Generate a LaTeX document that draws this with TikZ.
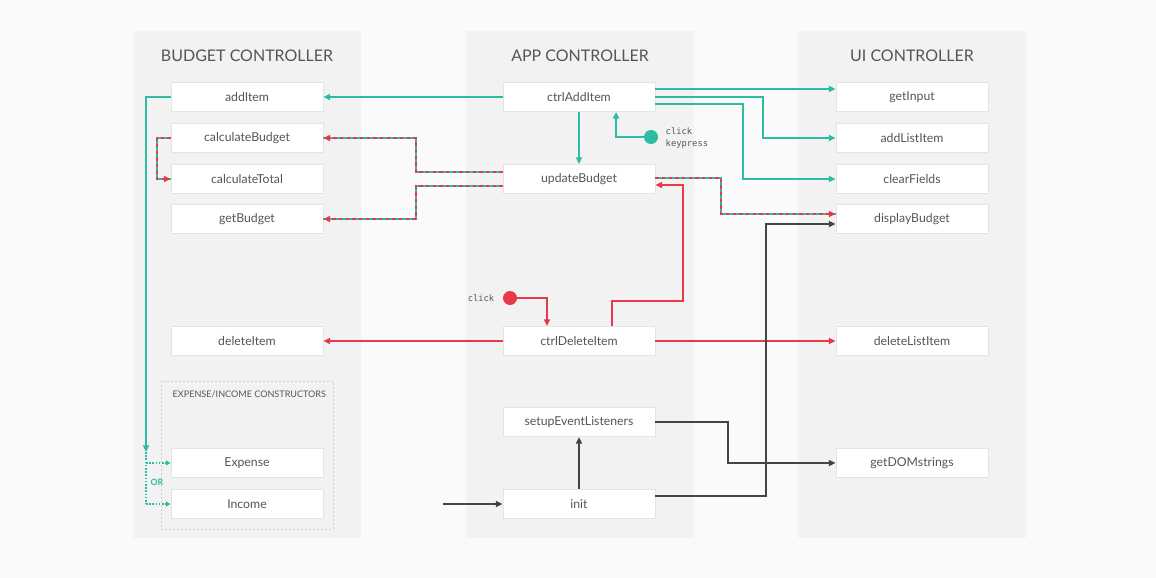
\documentclass[tikz,border=0pt]{standalone}
\usepackage{fontspec}
\setmainfont{Lato}
\newfontfamily\monofont{DejaVu Sans Mono}
\usetikzlibrary{arrows.meta,calc}
\definecolor{outerbg}{HTML}{FAFAFA}
\definecolor{colbg}{HTML}{F2F2F2}
\definecolor{boxborder}{HTML}{E4E4E4}
\definecolor{txt}{HTML}{555555}
\definecolor{tealc}{HTML}{2CBBA3}
\definecolor{redc}{HTML}{E8394A}
\definecolor{darkc}{HTML}{444444}
\tikzset{
  box/.style={draw=boxborder, line width=0.6pt, fill=white, minimum width=114pt, minimum height=22pt,
    inner sep=0pt, text=txt, font=\fontsize{9.2}{11}\selectfont},
  coltitle/.style={text=txt, font=\fontsize{12}{14}\selectfont},
  tip/.style={-{Triangle[length=5pt,width=4.5pt]}},
  tealline/.style={draw=tealc, line width=1.5pt, tip},
  redline/.style={draw=redc, line width=1.5pt, tip},
  darkline/.style={draw=darkc, line width=1.5pt, tip},
  mixbase/.style={draw=tealc, line width=1.5pt},
  mixtop/.style={draw=redc, line width=1.5pt, dash pattern=on 2.5pt off 2.5pt, tip},
  ordot/.style={draw=tealc, line width=1pt, dash pattern=on 1.2pt off 1.2pt},
  ortip/.style={-{Triangle[length=3.5pt,width=3.5pt]}},
  dot/.style={circle, inner sep=0pt, minimum size=10.5pt},
  monotxt/.style={text=txt, font=\monofont\fontsize{6.6}{8.5}\selectfont, align=left},
}
\begin{document}
\begin{tikzpicture}[x=0.75pt,y=-0.75pt]
\fill[outerbg] (0,0) rectangle (1156,578);
\useasboundingbox (0,0) rectangle (1156,578);
% columns
\fill[colbg] (133,31) rectangle (361,538);
\fill[colbg] (466,31) rectangle (694,538);
\fill[colbg] (798,31) rectangle (1026,538);
% titles
\node[coltitle] (tBudget) at (247,56) {BUDGET CONTROLLER};
\node[coltitle] (tApp) at (580,56) {APP CONTROLLER};
\node[coltitle] (tUI) at (912,56) {UI CONTROLLER};
% constructors box
\draw[boxborder!80!gray, line width=0.6pt, dash pattern=on 1.5pt off 1.5pt] (161,381) rectangle (333,529);
\node[anchor=west, text=txt, font=\fontsize{6.8}{8}\selectfont] (tCons) at (168,394) {EXPENSE/INCOME CONSTRUCTORS};
% budget controller nodes
\node[box] (addItem) at (247,97) {addItem};
\node[box] (calculateBudget) at (247,138) {calculateBudget};
\node[box] (calculateTotal) at (247,179) {calculateTotal};
\node[box] (getBudget) at (247,219) {getBudget};
\node[box] (deleteItem) at (247,341) {deleteItem};
\node[box] (Expense) at (247,463) {Expense};
\node[box] (Income) at (247,504) {Income};
% app controller nodes
\node[box] (ctrlAddItem) at (579,97) {ctrlAddItem};
\node[box] (updateBudget) at (579,179) {updateBudget};
\node[box] (ctrlDeleteItem) at (579,341) {ctrlDeleteItem};
\node[box] (setupEventListeners) at (579,422) {setupEventListeners};
\node[box] (init) at (579,504) {init};
% ui controller nodes
\node[box] (getInput) at (912,97) {getInput};
\node[box] (addListItem) at (912,138) {addListItem};
\node[box] (clearFields) at (912,179) {clearFields};
\node[box] (displayBudget) at (912,219) {displayBudget};
\node[box] (deleteListItem) at (912,341) {deleteListItem};
\node[box] (getDOMstrings) at (912,463) {getDOMstrings};
% event dots
\node[dot, fill=tealc] (clickA) at (651,137) {};
\node[monotxt, anchor=west] (clickAtxt) at (661,138) {click\\keypress};
\node[dot, fill=redc] (clickB) at (510,298) {};
\node[monotxt, anchor=east] (clickBtxt) at (499,298) {click};
% teal connectors
\draw[tealline] (ctrlAddItem.west) -- (addItem.east);
\coordinate (orTop) at (146,452);
\draw[tealline] (addItem.west) -| (orTop);
\draw[ordot] (orTop) -- (orTop |- Income.west);
\draw[ordot, ortip] (orTop |- Expense.west) -- (Expense.west);
\draw[ordot, ortip] (orTop |- Income.west) -- (Income.west);
\node[text=tealc, font=\bfseries\fontsize{6.5}{8}\selectfont] (orTxt) at (157,482) {OR};
\draw[tealline] (ctrlAddItem.south) -- (updateBudget.north);
\draw[tealline] (clickA.west) -| ($(ctrlAddItem.south)+(37,0)$);
\draw[tealline] ($(ctrlAddItem.east)+(0,-8)$) -- ($(getInput.west)+(0,-8)$);
\draw[tealline] (ctrlAddItem.east) -- ++(108,0) |- (addListItem.west);
\draw[tealline] ($(ctrlAddItem.east)+(0,7)$) -- ++(88,0) |- (clearFields.west);
% mixed dashed connectors
\draw[mixbase] ($(updateBudget.west)+(0,-7)$) -- ++(-87,0) |- (calculateBudget.east);
\draw[mixtop] ($(updateBudget.west)+(0,-7)$) -- ++(-87,0) |- (calculateBudget.east);
\draw[mixbase] ($(updateBudget.west)+(0,7)$) -- ++(-87,0) |- (getBudget.east);
\draw[mixtop] ($(updateBudget.west)+(0,7)$) -- ++(-87,0) |- (getBudget.east);
\draw[mixbase] ($(updateBudget.east)+(0,-1)$) -- ++(66,0) |- ($(displayBudget.west)+(0,-5)$);
\draw[mixtop] ($(updateBudget.east)+(0,-1)$) -- ++(66,0) |- ($(displayBudget.west)+(0,-5)$);
\draw[mixbase] (calculateBudget.west) -- ++(-14,0) |- (calculateTotal.west);
\draw[mixtop] (calculateBudget.west) -- ++(-14,0) |- (calculateTotal.west);
% red connectors
\draw[redline] (clickB.east) -| ($(ctrlDeleteItem.north)+(-32,0)$);
\draw[redline] (ctrlDeleteItem.west) -- (deleteItem.east);
\draw[redline] (ctrlDeleteItem.east) -- (deleteListItem.west);
\draw[redline] ($(ctrlDeleteItem.north)+(33,0)$) -- ++(0,-25) -- ++(71,0) |- ($(updateBudget.east)+(0,6)$);
% dark connectors
\coordinate (start) at (443,504);
\draw[darkline, line width=2pt] (start) -- (init.west);
\draw[darkline] (init.north) -- (setupEventListeners.south);
\draw[darkline] (setupEventListeners.east) -- ++(73,0) |- (getDOMstrings.west);
\draw[darkline] ($(init.east)+(0,-8)$) -- ++(111,0) |- ($(displayBudget.west)+(0,5)$);
\end{tikzpicture}
\end{document}
